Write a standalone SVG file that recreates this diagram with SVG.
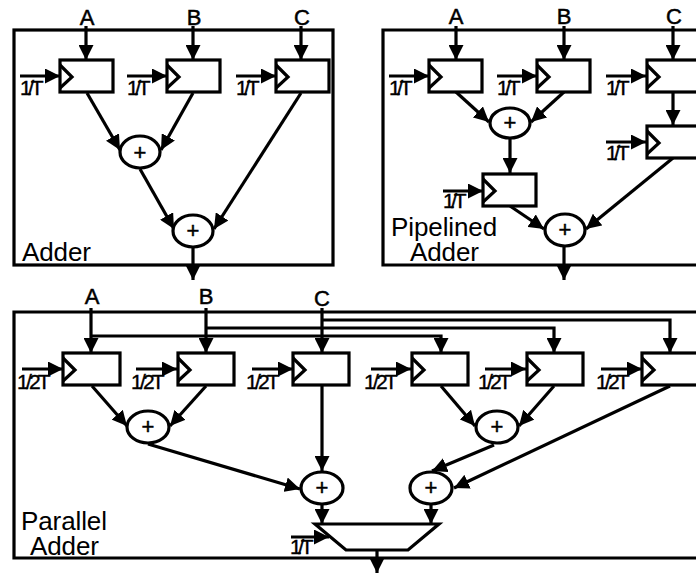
<svg xmlns="http://www.w3.org/2000/svg" width="696" height="575" viewBox="0 0 696 575">
<style>
text{font-family:"Liberation Sans",Arial,sans-serif;fill:#000}
.b{fill:none;stroke:#000;stroke-width:3.2}
.r{fill:#fff;stroke:#000;stroke-width:3.2}
.c{fill:none;stroke:#000;stroke-width:3.2}
.w{fill:none;stroke:#000;stroke-width:3.2;marker-end:url(#h)}
.l{font-size:26px;letter-spacing:-.1px}
.i{font-size:22px;text-anchor:middle;stroke:#000;stroke-width:.5}
.k{font-size:21px;letter-spacing:-3.4px;stroke:#000;stroke-width:.4}
.q{font-size:21px;letter-spacing:-2.8px;stroke:#000;stroke-width:.4}
</style>
<defs>
<marker id="h" markerUnits="userSpaceOnUse" markerWidth="16" markerHeight="15" refX="15" refY="7.5" orient="auto"><path d="M0 0L15 7.5L0 15Z" fill="#000"/></marker>
<g id="reg"><rect class="r" x="0" y="0" width="53" height="32"/><path class="c" d="M0 5L12 17L0 28"/></g>
</defs>
<g id="connectors">
<path class="w" d="M86 26V60"/><path class="w" d="M193 26V60"/><path class="w" d="M301 26V60"/>
<path class="w" d="M20 76H60"/><path class="w" d="M127 76H167"/><path class="w" d="M236 76H276"/>
<path class="w" d="M87 93L120 150"/><path class="w" d="M193 93L161 150"/><path class="w" d="M301 93L214 229"/><path class="w" d="M140 169L174 229"/><path class="w" d="M193 247V280"/>
<path class="w" d="M456 26V60"/><path class="w" d="M564 26V60"/><path class="w" d="M673 26V60"/>
<path class="w" d="M389 76H429"/><path class="w" d="M497 76H537"/><path class="w" d="M606 76H646"/><path class="w" d="M606 142H646"/><path class="w" d="M443 191H483"/>
<path class="w" d="M456 92L489 122"/><path class="w" d="M564 92L531 122"/><path class="w" d="M673 92V125"/><path class="w" d="M510 139V173"/><path class="w" d="M510 206L544 229"/><path class="w" d="M673 158L586 229"/><path class="w" d="M564 247V280"/>
<path class="w" d="M91 308V353"/><path class="w" d="M206 308V353"/><path class="w" d="M322 308V353"/>
<path class="w" d="M91 336H441V353"/><path class="w" d="M206 328H554V353"/><path class="w" d="M322 320H670V353"/>
<path class="w" d="M22 369H63"/><path class="w" d="M136 369H177"/><path class="w" d="M252 369H293"/><path class="w" d="M371 369H411"/><path class="w" d="M485 369H526"/><path class="w" d="M601 369H642"/>
<path class="w" d="M92 386L127 426"/><path class="w" d="M206 386L170 426"/><path class="w" d="M322 386V471"/><path class="w" d="M148 444L300 489"/><path class="w" d="M441 386L475 426"/><path class="w" d="M554 386L519 426"/><path class="w" d="M494 445L432 471"/><path class="w" d="M670 386L454 488"/>
<path class="w" d="M322 505V524"/><path class="w" d="M431 505V524"/><path class="w" d="M291 537H329"/><path class="w" d="M377 550V573"/>
</g>
<g id="panel-adder">
<rect class="b" x="14" y="30" width="319" height="235"/>
<text class="l" x="22" y="261">Adder</text>
</g>
<g id="panel-pipelined">
<path class="b" d="M698 30H383V265H698"/>
<text class="l"><tspan x="391" y="236">Pipelined</tspan><tspan x="410" y="261">Adder</tspan></text>
</g>
<g id="panel-parallel">
<path class="b" d="M698 312H14V558H698"/>
<text class="l"><tspan x="21" y="530">Parallel</tspan><tspan x="30" y="555">Adder</tspan></text>
</g>
<g id="inputs">
<text class="i" x="87" y="25">A</text><text class="i" x="194" y="25">B</text><text class="i" x="302" y="25">C</text>
<text class="i" x="456" y="24">A</text><text class="i" x="564" y="24">B</text><text class="i" x="674" y="24">C</text>
<text class="i" x="92" y="304">A</text><text class="i" x="206" y="304">B</text><text class="i" x="322" y="306">C</text>
</g>
<g id="regs-adder"><use href="#reg" x="60" y="60"/><use href="#reg" x="167" y="60"/><use href="#reg" x="276" y="60"/></g>
<g id="regs-pipelined"><use href="#reg" x="429" y="60"/><use href="#reg" x="537" y="60"/><use href="#reg" x="647" y="60"/><use href="#reg" x="647" y="126"/><use href="#reg" x="483" y="174"/></g>
<g id="regs-parallel">
<g transform="translate(63,353)"><rect class="r" width="57" height="32"/><path class="c" d="M0 5L12 17L0 28"/></g>
<g transform="translate(178,353)"><rect class="r" width="56" height="32"/><path class="c" d="M0 5L12 17L0 28"/></g>
<g transform="translate(293,353)"><rect class="r" width="56" height="32"/><path class="c" d="M0 5L12 17L0 28"/></g>
<g transform="translate(412,353)"><rect class="r" width="56" height="32"/><path class="c" d="M0 5L12 17L0 28"/></g>
<g transform="translate(527,353)"><rect class="r" width="56" height="32"/><path class="c" d="M0 5L12 17L0 28"/></g>
<g transform="translate(642,353)"><rect class="r" width="60" height="32"/><path class="c" d="M0 5L12 17L0 28"/></g>
</g>
<g id="clock-labels">
<text class="k" x="20" y="95">1/T</text><text class="k" x="127" y="95">1/T</text><text class="k" x="236" y="95">1/T</text>
<text class="k" x="389" y="95">1/T</text><text class="k" x="497" y="95">1/T</text><text class="k" x="606" y="95">1/T</text><text class="k" x="606" y="160">1/T</text><text class="k" x="443" y="208">1/T</text>
<text class="q" x="17" y="389">1/2T</text><text class="q" x="131" y="389">1/2T</text><text class="q" x="246" y="389">1/2T</text><text class="q" x="364" y="389">1/2T</text><text class="q" x="478" y="389">1/2T</text><text class="q" x="596" y="389">1/2T</text>
<text class="k" x="290" y="554">1/T</text>
</g>
<g id="adders">
<g id="add1"><ellipse class="r" cx="140" cy="152" rx="20" ry="16"/><text class="i" x="140" y="160">+</text></g>
<g id="add2"><ellipse class="r" cx="193" cy="231" rx="20" ry="16"/><text class="i" x="193" y="238">+</text></g>
<g id="add3"><ellipse class="r" cx="510" cy="123" rx="20" ry="15"/><text class="i" x="510" y="130">+</text></g>
<g id="add4"><ellipse class="r" cx="565" cy="230" rx="20" ry="16"/><text class="i" x="565" y="237">+</text></g>
<g id="add5"><ellipse class="r" cx="148" cy="427" rx="21" ry="16"/><text class="i" x="148" y="434">+</text></g>
<g id="add6"><ellipse class="r" cx="322" cy="488" rx="21" ry="16"/><text class="i" x="322" y="495">+</text></g>
<g id="add7"><ellipse class="r" cx="431" cy="488" rx="21" ry="16"/><text class="i" x="431" y="495">+</text></g>
<g id="add8"><ellipse class="r" cx="497" cy="427" rx="21" ry="16"/><text class="i" x="497" y="434">+</text></g>
</g>
<g id="mux"><path class="r" d="M315 524H439L408 550H346Z"/></g>
</svg>
